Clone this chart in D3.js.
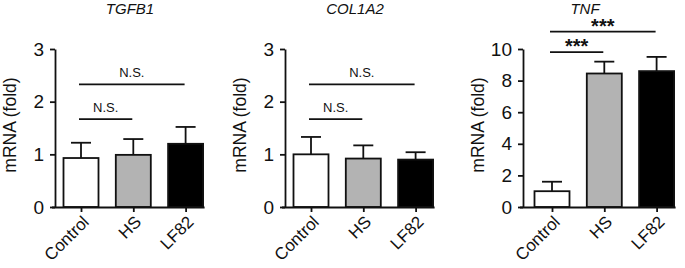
<!DOCTYPE html>
<html>
<head>
<meta charset="utf-8">
<script src="https://cdn.jsdelivr.net/npm/d3@7"></script>
<style>
  body { margin: 0; background: #fff; }
  svg { font-family: Arial, "Liberation Sans", sans-serif; }
</style>
</head>
<body>
<div id="chart"></div>
<script>
// data
const categories = ["Control", "HS", "LF82"];
const genes = ["TGFB1", "COL1A2", "TNF"];

const tgfb1Mean = [0.93, 0.99, 1.2];
const tgfb1Err = [0.29, 0.30, 0.32];
const col1a2Mean = [1.0, 0.92, 0.9];
const col1a2Err = [0.33, 0.25, 0.14];
const tnfMean = [1.0, 8.45, 8.6];
const tnfErr = [0.6, 0.75, 0.9];

const tgfb1Ticks = [0, 1, 2, 3];
const col1a2Ticks = [0, 1, 2, 3];
const tnfTicks = [0, 2, 4, 6, 8, 10];

// comparisons: [from, to, level, label]
const tgfb1Sig = [[0, 1, 1.67, "N.S."], [0, 2, 2.33, "N.S."]];
const col1a2Sig = [[0, 1, 1.67, "N.S."], [0, 2, 2.33, "N.S."]];
const tnfSig = [[0, 1, 9.8, "***"], [0, 2, 11.1, "***"]];

const panels = [
  { gene: genes[0], mean: tgfb1Mean, err: tgfb1Err, ticks: tgfb1Ticks, sig: tgfb1Sig },
  { gene: genes[1], mean: col1a2Mean, err: col1a2Err, ticks: col1a2Ticks, sig: col1a2Sig },
  { gene: genes[2], mean: tnfMean, err: tnfErr, ticks: tnfTicks, sig: tnfSig },
];

const fills = ["#ffffff", "#b3b3b3", "#000000"];

// layout
const W = 685, H = 268;
const axisX = [55, 285, 523];
const firstOff = [26, 26, 29];
const step = 52.3;
const plotTop = 49, plotBottom = 207;
const barW = 35;

const svg = d3.select("#chart").append("svg")
  .attr("width", W).attr("height", H);

panels.forEach((p, i) => {
  const x0 = axisX[i];
  const g = svg.append("g");

  const x = d3.scalePoint()
    .domain(categories)
    .range([x0 + firstOff[i], x0 + firstOff[i] + step * 2]);

  const y = d3.scaleLinear()
    .domain([0, d3.max(p.ticks)])
    .range([plotBottom, plotTop]);

  // bars
  g.selectAll(".bar")
    .data(categories)
    .enter()
    .append("rect")
    .attr("x", d => x(d) - barW / 2)
    .attr("y", (d, j) => y(p.mean[j]))
    .attr("width", barW)
    .attr("height", (d, j) => plotBottom - y(p.mean[j]))
    .attr("fill", (d, j) => fills[j])
    .attr("stroke", "#111")
    .attr("stroke-width", 1.8);

  // error bars (upper only)
  categories.forEach((c, j) => {
    const cx = x(c);
    const yt = y(p.mean[j] + p.err[j]);
    g.append("line")
      .attr("x1", cx).attr("x2", cx)
      .attr("y1", y(p.mean[j])).attr("y2", yt)
      .attr("stroke", "#111").attr("stroke-width", 1.8);
    g.append("line")
      .attr("x1", cx - 10).attr("x2", cx + 10)
      .attr("y1", yt).attr("y2", yt)
      .attr("stroke", "#111").attr("stroke-width", 1.8);
  });

  // y axis
  const yAxis = d3.axisLeft(y)
    .tickValues(p.ticks)
    .tickFormat(d3.format("d"))
    .tickSize(5)
    .tickSizeOuter(0)
    .tickPadding(6);
  const ya = g.append("g")
    .attr("transform", `translate(${x0},0)`)
    .call(yAxis);
  ya.select(".domain").attr("stroke-width", 1.8).attr("stroke", "#111");
  ya.selectAll(".tick line").attr("stroke-width", 1.8).attr("stroke", "#111");
  ya.selectAll("text").style("font-size", "19px").attr("fill", "#111");

  // x axis
  const xAxis = d3.axisBottom(x).tickSize(5).tickSizeOuter(0).tickFormat("");
  const xa = g.append("g")
    .attr("transform", `translate(0,${plotBottom})`)
    .call(xAxis);
  xa.select(".domain")
    .attr("d", `M${x0 - 3},0.5H${x(categories[2]) + 19}`)
    .attr("stroke-width", 1.8).attr("stroke", "#111");
  xa.selectAll(".tick line").attr("stroke-width", 1.8).attr("stroke", "#111");

  // rotated category labels
  g.selectAll(".cat")
    .data(categories)
    .enter()
    .append("text")
    .attr("transform", d => `translate(${x(d) + 9},${plotBottom + 16}) rotate(-45)`)
    .attr("text-anchor", "end")
    .style("font-size", "17px")
    .attr("fill", "#111")
    .text(d => d);

  // y axis label
  g.append("text")
    .attr("transform", `translate(${x0 - 39},${(plotTop + plotBottom) / 2 - 3}) rotate(-90)`)
    .attr("text-anchor", "middle")
    .style("font-size", "17.5px")
    .attr("fill", "#111")
    .text("mRNA (fold)");

  // gene title
  g.append("text")
    .attr("x", [130, 355, 585][i])
    .attr("y", 14)
    .attr("text-anchor", "middle")
    .style("font-size", "15px")
    .style("font-style", "italic")
    .attr("fill", "#111")
    .text(p.gene);

  // significance lines
  p.sig.forEach(s => {
    const xa1 = x(categories[s[0]]) - 2;
    const xa2 = x(categories[s[1]]) - 1;
    const ly = y(s[2]);
    const star = s[3] === "***";
    g.append("line")
      .attr("x1", xa1).attr("x2", xa2)
      .attr("y1", ly).attr("y2", ly)
      .attr("stroke", "#111").attr("stroke-width", 1.8);
    g.append("text")
      .attr("x", (xa1 + xa2) / 2)
      .attr("y", star ? ly + 1 : ly - 7)
      .attr("text-anchor", "middle")
      .style("font-size", star ? "20px" : "13px")
      .style("font-weight", star ? "bold" : "normal")
      .attr("fill", "#111")
      .text(s[3]);
  });
});
</script>
</body>
</html>
